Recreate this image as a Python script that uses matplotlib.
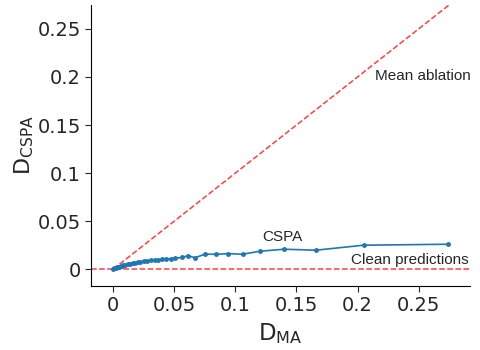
import matplotlib
matplotlib.use('Agg')
import matplotlib.pyplot as plt
import numpy as np

# D_MA vs D_CSPA
d_ma = [0.0, 0.001, 0.002, 0.003, 0.004, 0.005, 0.006, 0.007, 0.008, 0.010,
        0.012, 0.014, 0.016, 0.018, 0.020, 0.022, 0.025, 0.028, 0.031, 0.034,
        0.037, 0.040, 0.043, 0.047, 0.051, 0.056, 0.061, 0.067, 0.075, 0.084,
        0.094, 0.106, 0.120, 0.140, 0.166, 0.205, 0.274]
d_cspa = [0.0, 0.0008, 0.0013, 0.0018, 0.0023, 0.0027, 0.0031, 0.0035, 0.0039, 0.0045,
          0.0052, 0.0058, 0.0063, 0.0068, 0.0072, 0.0076, 0.0082, 0.0088, 0.0093, 0.0097,
          0.0100, 0.0103, 0.0106, 0.0110, 0.0115, 0.0122, 0.0140, 0.0120, 0.0156, 0.0156,
          0.0162, 0.0156, 0.0187, 0.0208, 0.0198, 0.0250, 0.0260]

xticks = [0, 0.05, 0.1, 0.15, 0.2, 0.25]
tick_labels = ['0', '0.05', '0.1', '0.15', '0.2', '0.25']

fig = plt.figure(figsize=(4.8, 3.5), dpi=100)
ax = fig.add_axes([0.19, 0.183, 0.789, 0.803])

ax.plot([0, 0.3], [0, 0.3], '--', color='red', alpha=0.75, lw=1.1)
ax.axhline(0, ls='--', color='red', alpha=0.75, lw=1.1)
ax.plot(d_ma, d_cspa, '.-', color='tab:blue', ms=5, lw=1.2)

txt = dict(family=['Liberation Sans', 'DejaVu Sans'], fontsize=11, color='#262626')
ax.text(0.214, 0.201, 'Mean ablation', va='center', **txt)
ax.text(0.122, 0.0336, 'CSPA', va='center', **txt)
ax.text(0.195, 0.0097, 'Clean predictions', va='center', **txt)

ax.set_xlim(-0.018, 0.292)
ax.set_ylim(-0.0174, 0.275)
ax.set_xticks(xticks)
ax.set_xticklabels(tick_labels)
ax.set_yticks(xticks)
ax.set_yticklabels(tick_labels)
ax.tick_params(labelsize=14, colors='#262626', length=4)
ax.set_xlabel(r'D$_\mathregular{MA}$', fontsize=16.5, color='#262626')
ax.set_ylabel(r'D$_\mathregular{CSPA}$', fontsize=16, color='#262626', labelpad=1)
ax.spines['top'].set_visible(False)
ax.spines['right'].set_visible(False)

fig.savefig('out.png', dpi=100)
